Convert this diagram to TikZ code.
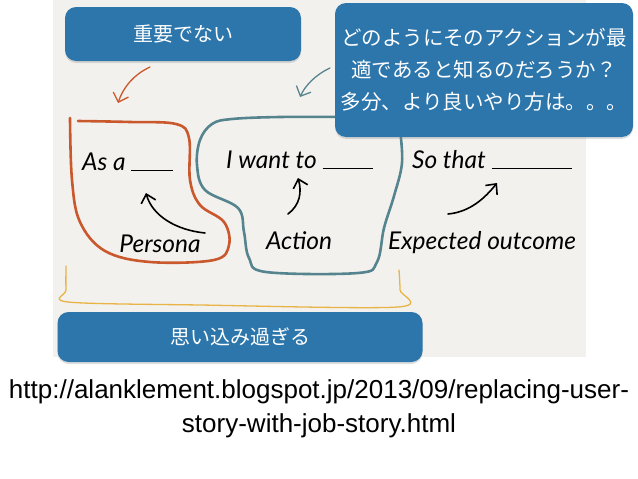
\documentclass[tikz,border=0pt]{standalone}
\usepackage{fontspec}
\setmainfont{Liberation Sans}
\newfontfamily\jp{Noto Sans CJK JP}
\newfontfamily\hand{Lato}
\usetikzlibrary{arrows.meta,shadows}
\definecolor{boxblue}{HTML}{2C76AC}
\definecolor{panel}{HTML}{F3F1ED}
\definecolor{orangeline}{HTML}{C9582C}
\definecolor{tealline}{HTML}{55848F}
\definecolor{yellowline}{HTML}{E8B447}
\tikzset{
  bluebox/.style={fill=boxblue, rounded corners=11pt, text=white, align=center,
    drop shadow={opacity=0.25, shadow xshift=0pt, shadow yshift=-2pt}},
  handtext/.style={font=\hand\itshape\fontsize{24.5}{26}\selectfont, text=black, inner sep=0pt},
  loopline/.style={line width=2.6pt, line cap=round, line join=round},
  blackarrow/.style={line width=1.6pt, line cap=round, -{Straight Barb[length=8pt,width=15pt,line width=1.6pt]}},
  smallarrow/.style={line width=1.3pt, line cap=round, -{Straight Barb[length=8pt,width=16pt,line width=1.3pt]}}
}
\begin{document}
\begin{tikzpicture}[x=1pt,y=-1pt]
\useasboundingbox (0,0) rectangle (638,479);
\fill[white] (0,0) rectangle (638,479);
\fill[panel] (53,0) rectangle (586,357);

% loops
\draw[loopline, orangeline] plot[smooth, tension=0.6] coordinates {(78,121) (130,122) (176,124) (189,138) (190,180) (200,205) (224,222) (229,245) (214,260) (150,262) (105,251) (80,222) (72,180) (70,118)};
\draw[loopline, tealline] plot[smooth, tension=0.6] coordinates {(345,117) (280,117) (232,119) (212,124) (200,140) (197,165) (205,190) (238,208) (244,232) (249,258) (266,272) (358,273) (377,262) (384,228) (394,196) (402,163) (400,130)};
\draw[line width=1.3pt, yellowline, line cap=round] plot[smooth, tension=0.5] coordinates {(66,266) (66,290) (68,302) (200,305) (398,307) (400,290) (399,270)};

% handwritten texts
\node[handtext, anchor=base west] (asa) at (82,170) {As a \rule[-1pt]{42pt}{1.2pt}};
\node[handtext, anchor=base west] (want) at (226,168) {I want to \rule[-1pt]{50pt}{1.2pt}};
\node[handtext, anchor=base west] (sothat) at (412,168) {So that \rule[-1pt]{80pt}{1.2pt}};
\node[handtext] (persona) at (160,244) {Persona};
\node[handtext] (action) at (299,241) {Action};
\node[handtext] (outcome) at (482,243) {Expected outcome};

\coordinate (pt1) at (205,233);
\coordinate (ph1) at (146,193);
\coordinate (pt2) at (288,214);
\coordinate (ph2) at (298,178);
\coordinate (pt3) at (448,214);
\coordinate (ph3) at (497,183);
\draw[blackarrow] (pt1) .. controls (175,230) and (152,215) .. (ph1);
\draw[blackarrow] (pt2) .. controls (300,205) and (302,192) .. (ph2);
\draw[blackarrow] (pt3) .. controls (470,212) and (485,198) .. (ph3);

% blue boxes
\node[bluebox, minimum width=236pt, minimum height=54pt, font=\jp\fontsize{20}{24}\selectfont] (notimp) at (183,34) {重要でない};
\node[bluebox, minimum width=298pt, minimum height=134pt, inner sep=2pt, font=\jp\fontsize{20.5}{32}\selectfont] (how) at (484,70) {どのようにそのアクションが最\\適であると知るのだろうか？\\多分、より良いやり方は。。。};
\node[bluebox, minimum width=365pt, minimum height=50pt, font=\jp\fontsize{20}{24}\selectfont] (over) at (240,337) {思い込み過ぎる};

% small arrows
\coordinate (oa) at (150,67);
\coordinate (ob) at (118,103);
\coordinate (ta) at (330,68);
\coordinate (tb) at (300,97);
\draw[smallarrow, orangeline] (oa) .. controls (133,75) and (123,88) .. (ob);
\draw[smallarrow, tealline] (ta) .. controls (315,75) and (305,86) .. (tb);

% URL
\node[font=\fontsize{26}{34}\selectfont, align=center] (url) at (319,409) {http://alanklement.blogspot.jp/2013/09/replacing-user-\\story-with-job-story.html};
\end{tikzpicture}
\end{document}
